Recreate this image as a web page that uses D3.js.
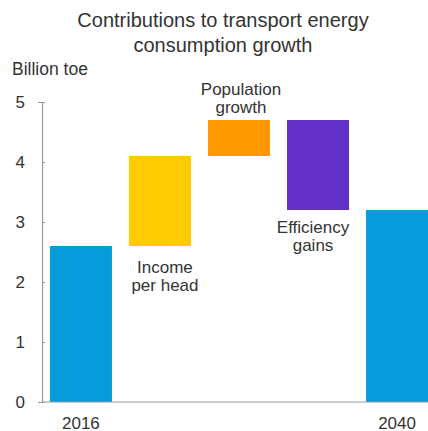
<!DOCTYPE html>
<html>
<head>
<meta charset="utf-8">
<script src="https://cdn.jsdelivr.net/npm/d3@7"></script>
<style>
  body { margin: 0; background: #fff; }
  text { font-family: "Liberation Sans", Arial, sans-serif; fill: #333; }
</style>
</head>
<body>
<div id="chart-area"></div>
<script>
// waterfall steps, billion toe
let categories = ["2016", "Income per head", "Population growth", "Efficiency gains", "2040"];
let barStart = [0, 2.6, 4.1, 4.7, 0];
let barEnd = [2.6, 4.1, 4.7, 3.2, 3.2];
let barColors = ["#069cdc", "#fecb00", "#ff9900", "#6431c8", "#069cdc"];
let yTicks = [0, 1, 2, 3, 4, 5];

let width = 428, height = 431;

let svg = d3.select("#chart-area")
  .append("svg")
    .attr("width", width)
    .attr("height", height);

// Y Scale
let y = d3.scaleLinear()
  .domain([0, 5])
  .range([402, 102]);

// X Scale
let x = d3.scaleBand()
  .domain(categories)
  .range([42, 436])
  .paddingInner(0.215)
  .paddingOuter(0.1);

// Bars
svg.selectAll("rect.bar")
  .data(categories)
  .enter()
  .append("rect")
  .attr("class", "bar")
  .attr("x", d => x(d))
  .attr("width", x.bandwidth())
  .attr("y", (d, i) => y(Math.max(barStart[i], barEnd[i])))
  .attr("height", (d, i) => Math.abs(y(barStart[i]) - y(barEnd[i])))
  .attr("fill", (d, i) => barColors[i]);

// Y Axis
let yAxisCall = d3.axisLeft(y)
  .tickValues(yTicks)
  .tickSize(4)
  .tickFormat(d3.format("d"));

let yAxisGroup = svg.append("g")
  .attr("transform", "translate(42,0)")
  .call(yAxisCall);
yAxisGroup.select(".domain").attr("stroke", "#999").attr("stroke-width", 1.2);
yAxisGroup.selectAll(".tick line").attr("stroke", "#999").attr("x2", 3).attr("x1", 0);
yAxisGroup.selectAll(".tick text")
  .attr("x", -17)
  .attr("font-size", "17px")
  .attr("font-family", "'Liberation Sans', Arial, sans-serif")
  .attr("fill", "#555");

// baseline
svg.append("line")
  .attr("x1", 42).attr("x2", width)
  .attr("y1", y(0)).attr("y2", y(0))
  .attr("stroke", "#999")
  .attr("stroke-width", 1.2);

// Title
svg.append("text")
  .attr("x", 223)
  .attr("y", 27)
  .attr("font-size", "20px")
  .attr("text-anchor", "middle")
  .attr("fill", "#222")
  .text("Contributions to transport energy");
svg.append("text")
  .attr("x", 223)
  .attr("y", 52)
  .attr("font-size", "20px")
  .attr("text-anchor", "middle")
  .attr("fill", "#222")
  .text("consumption growth");

// Unit label
svg.append("text")
  .attr("x", 12)
  .attr("y", 75)
  .attr("font-size", "17.5px")
  .attr("fill", "#444")
  .text("Billion toe");

// Category labels
let labelLines = [["2016"], ["Income", "per head"], ["Population", "growth"], ["Efficiency", "gains"], ["2040"]];
let labelY = [429, 273, 95, 233, 429];
let labelShift = [0, 5, 2, -5, 0];

labelLines.forEach(function(lines, i){
  let t = svg.append("text")
    .attr("text-anchor", "middle")
    .attr("font-size", "17px")
    .attr("fill", i === 0 || i === 4 ? "#444" : "#333");
  lines.forEach(function(line, j){
    t.append("tspan")
      .attr("x", x(categories[i]) + x.bandwidth() / 2 + labelShift[i])
      .attr("y", labelY[i] + j * 18)
      .text(line);
  });
});
</script>
</body>
</html>
